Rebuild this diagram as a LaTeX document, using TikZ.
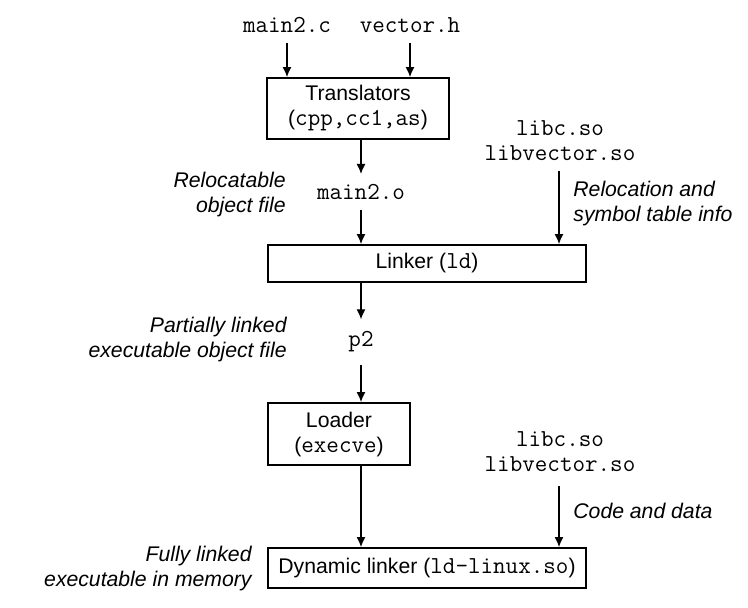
\documentclass[tikz,border=0pt]{standalone}
\usepackage{fontspec}
\setmainfont{Liberation Sans}
\setmonofont{Latin Modern Mono}[Scale=1.15]
\usetikzlibrary{arrows.meta,positioning,calc}
\newcommand\figfont{\fontsize{10.6}{12.5}\selectfont}

\begin{document}
\begin{tikzpicture}[x=0.5pt,y=-0.5pt,>={Latex[length=5pt,width=4.5pt]},
  box/.style={draw,line width=1pt,inner sep=0pt,align=center,font=\figfont},
  file/.style={inner sep=0pt,align=center,font=\figfont\ttfamily},
  note/.style={inner sep=0pt,font=\figfont\itshape},
  flow/.style={->,line width=.6pt}]
\useasboundingbox (0,0) rectangle (748,607);
% inputs and translators
\node[file] (mainc) at (287,25){main2.c};
\node[file] (vech) at (410,25){vector.h};
\node[box,minimum width=91pt,minimum height=30.5pt] (trans) at (358,108.5){Translators\\(\texttt{cpp,cc1,as})};
\draw[flow,shorten <=5pt] (mainc.south) -- (mainc.south |- trans.north);
\draw[flow,shorten <=5pt] (vech.south) -- (vech.south |- trans.north);
% relocatable object and linker
\node[file] (objo) at (361,192){main2.o};
\node[note,anchor=east,align=right] (relnote) at (286,195){Relocatable\\object file};
\node[file] (libs) at (560,141){libc.so\\libvector.so};
\node[note,anchor=west,align=left] (symnote) at (573,204){Relocation and\\symbol table info};
\node[box,minimum width=159pt,minimum height=18.5pt] (linker) at (427,263.5){Linker (\texttt{ld})};
\draw[flow,shorten >=5pt] (trans.south -| objo) -- (objo.north);
\draw[flow,shorten <=5pt] (objo.south) -- (objo.south |- linker.north);
\coordinate (libtop) at ($(libs.south)+(-1,0)$);
\draw[flow,shorten <=5pt] (libtop) -- (libtop |- linker.north);
% partially linked executable and loader
\node[file] (ptwo) at (361,342){p2};
\node[note,anchor=east,align=right] (partnote) at (287,340){Partially linked\\executable object file};
\node[box,minimum width=71pt,minimum height=31pt] (loader) at (339,434){Loader\\(\texttt{execve})};
\draw[flow,shorten >=6pt] (linker.south -| ptwo) -- (ptwo.north);
\draw[flow,shorten <=6pt] (ptwo.south) -- (ptwo.south |- loader.north);
% dynamic linking
\node[file] (libsb) at (560,452){libc.so\\libvector.so};
\node[note,anchor=west] (codenote) at (573,511){Code and data};
\node[box,minimum width=159pt,minimum height=20pt] (dyn) at (427,568){Dynamic linker (\texttt{ld-linux.so})};
\node[note,anchor=east,align=right] (fullnote) at (252,568){Fully linked\\executable in memory};
\draw[flow] (loader.south -| ptwo) -- (ptwo |- dyn.north);
\coordinate (libbot) at ($(libsb.south)+(-1,0)$);
\draw[flow,shorten <=7pt] (libbot) -- (libbot |- dyn.north);
\end{tikzpicture}
\end{document}
